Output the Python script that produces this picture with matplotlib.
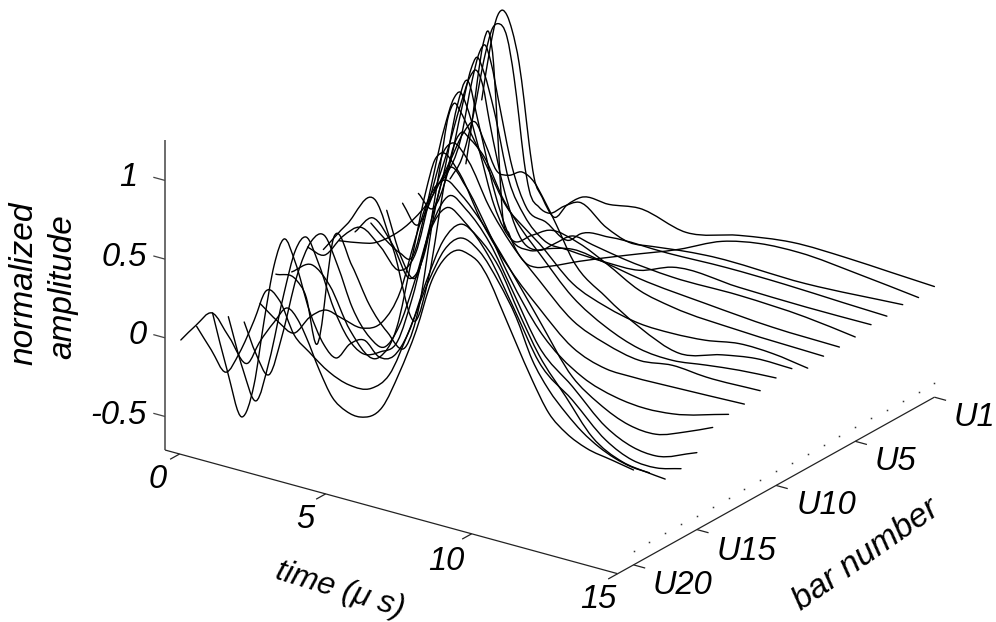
import numpy as np
import matplotlib
matplotlib.use("Agg")
import matplotlib.pyplot as plt
from matplotlib.path import Path
from matplotlib.patches import PathPatch
from mpl_toolkits.mplot3d import proj3d

# time values are measured from the left edge of the time axis (tick "0" sits at 0.5)
T01=[0,.3,.5,.7,.87,1.04,1.28,1.45,1.62,1.79,2.07,2.48,2.92,3.4,4.36,5.39,7,8.81,10.63,12.5,14,15.5]
A01=[.39,.75,.93,.996,.97,.885,.688,.461,.196,-.01,-.124,-.23,-.13,-.057,-.053,-.025,-.097,-.024,.024,.02,.005,-.01]
T02=[0,.2,.4,.6,.8,.95,1.1,1.24,1.48,1.72,2.06,2.4,2.85,3.88,5.49,7.3,8.77,10.04,11.41,13.47,15.5]
A02=[.04,.3,.6,.84,.91,.72,.25,-.19,-.33,-.42,-.488,-.496,-.467,-.383,-.263,-.133,-.008,.043,.055,.02,-.024]
T03=[0,.4,.8,1.2,1.45,1.64,1.95,2.19,2.36,2.53,2.71,3.05,3.39,3.9,4.42,5.34,6.13,6.92,7.84,8.76,12.18,15.5]
A03=[0,.15,.45,.85,1.03,1.07,1.0,.758,.511,.247,.066,-.025,-.046,.024,.076,-.036,-.092,-.078,-.056,-.041,-.048,-.013]
T04=[0,.4,.9,1.3,1.55,1.74,1.95,2.2,2.67,3.15,3.83,4.62,5,6,8,10,12,14,15.5]
A04=[0,.1,.35,.75,.94,.995,.89,.668,.266,.036,-.025,-.1,-.04,-.01,-.01,0,-.005,-.02,-.03]
T05=[0,.5,1,1.5,1.8,2,2.25,2.59,3.1,3.62,4.3,5.16,6.43,7.56,8.69,10.98,13.27,15.5]
A05=[.02,-.05,.2,.65,.9,.987,.9,.68,.26,.065,-.06,-.08,-.092,-.085,-.008,-.02,-.029,-.028]
T06=[0,.5,1,1.5,2,2.3,2.52,2.75,2.97,3.48,3.99,4.68,5.2,5.8,6.5,7.52,9.23,11.53,13.8,15.5]
A06=[.014,-.1,.1,.4,.75,.93,.987,.9,.69,.274,.013,-.048,.02,.1,.08,.045,.013,.013,-.01,-.05]
T07=[0,.5,1,1.5,2,2.4,2.75,3.16,3.68,4.19,4.88,5.5,6.36,7.5,8.64,10.93,13.2,15.5]
A07=[.025,-.25,-.35,.02,.4,.8,.991,.725,.338,.079,.018,.06,.1,.07,.03,-.014,-.048,-.058]
T08=[0,.5,1,1.41,1.9,2.5,2.85,3.06,3.3,3.71,4.22,4.84,5.5,6.1,7.13,8.05,9.19,10.32,12.6,15.5]
A08=[0,-.08,-.14,-.146,.2,.72,.94,.987,.9,.652,.327,.137,.2,.264,.233,.153,.039,-.01,-.043,-.06]
T09=[0,.6,1.3,1.9,2.4,2.9,3.2,3.4,3.6,3.9,4.5,5.2,5.8,6.3,7.45,8.6,9.73,10.86,12,13.15,14.3,15.5]
A09=[0,.12,-.02,-.2,0,.55,.9,.99,.95,.85,.65,.42,.32,.247,.05,-.04,-.088,-.094,-.08,-.043,-.048,-.08]
T10=[0,.8,1.13,1.71,2.4,3.2,3.8,4.25,4.66,5,5.38,5.8,6.27,6.68,7,7.43,8,9.13,10.27,11.64,13.12,14.27,15.5]
A10=[0,.026,.042,.109,.233,.45,.7,.9,.99,.87,.72,.71,.754,.71,.62,.48,.282,.106,-.027,-.125,-.06,-.025,-.027]
T11=[0,.8,1.8,2.4,3.17,3.6,4.2,4.55,4.75,5,5.5,6.2,6.8,7.39,8.53,9.67,10.81,11.95,13.1,14.24,15.5]
A11=[0,.2,.4,.12,-.29,0,.68,.93,.987,.96,.87,.62,.47,.352,.132,-.001,-.081,-.098,-.07,-.045,-.03]
T12=[0,.58,1.2,1.83,2.5,3.14,3.7,4.2,4.7,4.95,5.5,6.2,7,7.93,9.07,10.2,11.36,12.5,13.64,15.5]
A12=[.072,.05,.2,.29,.2,.083,.22,.6,.93,.984,.9,.65,.44,.263,.067,-.024,-.072,-.046,-.062,-.055]
T13=[0,.7,1.3,2,3,3.6,4.1,4.6,4.9,5.1,5.7,6.5,7.5,8.47,9.6,10.76,11.67,13.04,15.5]
A13=[-.03,.05,-.05,-.3,-.42,-.2,.25,.72,.93,.982,.9,.62,.36,.17,-.02,-.1,-.106,-.1,-.084]
T14=[0,.7,1.04,1.38,2,2.6,3.2,3.8,4.46,4.9,5.4,5.7,5.93,6.5,7.2,8,9.02,10.5,11.64,12.67,13.58,15.5]
A14=[.012,.01,-.083,-.363,.355,.2,-.02,-.16,-.22,.05,.65,.9,.986,.9,.68,.4,.113,-.11,-.18,-.2,-.187,-.093]
T15=[0,.6,1.17,1.7,2.23,2.8,3.5,4.2,4.8,5.3,5.8,6.3,6.9,7.6,8.5,9.56,10.7,11.6,12.64,13.55,14.58,15.5]
A15=[-.118,-.2,-.247,-.12,-.047,-.07,-.097,-.02,.2,.55,.85,.985,.92,.78,.55,.26,-.043,-.165,-.25,-.262,-.195,-.12]
T16=[0,.4,.86,1.3,1.8,2.3,2.74,3.2,3.7,4.3,4.8,5.3,5.8,6.4,7.02,7.6,8.4,9.2,10.1,11.24,12.39,13.3,14.1,15.5]
A16=[-.18,-.36,-.47,-.2,.2,.45,.51,.34,.1,-.06,-.096,.06,.35,.75,.978,.92,.75,.48,.174,-.02,-.219,-.3,-.316,-.224]
T17=[0,.5,.95,1.4,1.9,2.3,2.66,3.1,3.6,4.1,4.58,5.2,5.8,6.3,6.9,7.46,8.1,8.9,9.8,10.64,11.78,12.93,13.84,14.64,15.5]
A17=[-.09,-.4,-.577,-.3,.15,.45,.551,.4,.15,-.02,-.09,-.05,.05,.35,.8,.98,.92,.75,.45,.16,-.023,-.22,-.3,-.308,-.27]
T18=[0,.5,1.01,1.42,1.77,2.11,2.45,2.83,3.31,3.82,4.23,4.7,5.2,5.7,6.2,6.7,7.3,7.9,8.5,9.1,9.8,10.5,11.18,12.1,13,14.04,14.84,15.5]
A18=[-.01,-.348,-.62,-.396,.034,.4,.584,.457,.176,-.02,-.082,.03,.08,0,.03,.2,.55,.85,.985,.93,.78,.52,.289,.07,-.139,-.245,-.268,-.28]
T19=[0,.5,1,1.46,1.97,2.37,2.83,3.34,3.85,4.54,5.22,5.98,6.59,7.28,7.96,8.48,9,9.67,10.36,10.94,11.49,12.05,12.65,13.2,13.78,14.3,14.91,15.5]
A19=[-.04,-.164,-.28,-.135,.1,.305,.27,.075,-.007,-.1,-.147,-.13,-.014,.306,.659,.876,.978,.93,.76,.573,.33,.17,.05,-.04,-.108,-.15,-.178,-.184]
T20=[0,.52,1.07,1.65,2.3,2.68,3.2,3.64,4.05,4.29,4.74,5.18,5.66,6.14,6.9,7.48,8.06,8.6,9.08,9.5,9.85,10.2,10.55,10.9,11.48,12.03,12.6,13.2,13.88,14.77,15.5]
A20=[-.07,.05,.156,.033,-.1,.047,.207,.318,.25,.167,-.02,-.17,-.235,-.248,-.146,.1,.4,.747,.918,.983,.975,.94,.85,.717,.492,.286,.104,.007,-.053,-.085,-.11]

TIMES=[T01,T02,T03,T04,T05,T06,T07,T08,T09,T10,T11,T12,T13,T14,T15,T16,T17,T18,T19,T20]
AMPS=[A01,A02,A03,A04,A05,A06,A07,A08,A09,A10,A11,A12,A13,A14,A15,A16,A17,A18,A19,A20]

time_ticks=[.5,5.5,10.5,15.5]
time_labels=['0','5','10','15']
bar_ticks=[1,6,11,16,20]
bar_labels=['U1','U5','U10','U15','U20']
amp_ticks=[-.5,0,.5,1]
amp_labels=['-0.5','0','0.5','1']

TMIN,TMAX=0,15.5
BFRONT,BBACK=21,1
ZMIN,ZMAX=-.713,1.26
DOT_Z=-.624

W,H=996,622
plt.rcParams['font.family']=['Liberation Sans','DejaVu Sans']
fig=plt.figure(figsize=(W/100,H/100),dpi=100)
side=1300
pos=[(W-side)/2/W,(H-side)/2/H,side/W,side/H]
ax=fig.add_axes(pos,projection='3d',proj_type='ortho')
ax.set_xlim(TMIN,TMAX); ax.set_ylim(BFRONT,BBACK); ax.set_zlim(ZMIN,ZMAX)
ax.view_init(elev=22.97,azim=-55)
ax.set_axis_off()
aspect=((TMAX-TMIN)*35.64,abs(BFRONT-BBACK)*27.6,(ZMAX-ZMIN)*170.85)
ax.set_box_aspect(aspect)

def pix(t,b,z):
    x,y,_=proj3d.proj_transform(t,b,z,ax.get_proj())
    return ax.transData.transform((x,y))

# fit the projected box to the picture: time axis runs from (165,450) to (617.6,574)
p0,p1=pix(TMIN,BFRONT,ZMIN),pix(TMAX,BFRONT,ZMIN)
ax.set_box_aspect(aspect,zoom=np.hypot(452.6,124)/np.hypot(*(p1-p0)))
p0=pix(TMIN,BFRONT,ZMIN)
dx,dy=165-p0[0],(H-450)-p0[1]
ax.set_position([pos[0]+dx/W,pos[1]+dy/H,pos[2],pos[3]])

axc='#222222'
def seg(t,b,z,c=axc,lw=.9):
    ax.plot(t,b,z,color=c,lw=lw,clip_on=False,solid_capstyle='butt')
seg([TMIN,TMAX],[BFRONT,BFRONT],[ZMIN,ZMIN])
seg([TMAX,TMAX],[BFRONT,BBACK],[ZMIN,ZMIN])
seg([TMIN,TMIN],[BFRONT,BFRONT],[ZMIN,ZMAX],c='#444444',lw=1.1)
for t in time_ticks:
    seg([t,t],[BFRONT,BFRONT+.6],[ZMIN,ZMIN])
for b in bar_ticks:
    seg([TMAX,TMAX+.4],[b,b],[ZMIN,ZMIN])
for z in amp_ticks:
    seg([TMIN,TMIN-.4],[BFRONT,BFRONT],[z,z],c='#444444')

bars=np.arange(1,21)
ax.plot(np.full(20,TMAX),bars,np.full(20,DOT_Z),ls='',marker='s',ms=1.1,mew=0,color='#333333',clip_on=False)

class CurvedTrace(PathPatch):
    def do_3d_projection(self):
        return 0

def smooth_path(t,b,a):
    """Path through the read values, with curved (Bezier) segments as the line style."""
    t=np.asarray(t,float); a=np.asarray(a,float)
    x,y,_=proj3d.proj_transform(t,np.full(len(t),b),a,ax.get_proj())
    P=np.column_stack([x,y])
    m=np.gradient(P,t,axis=0)
    verts=[P[0]]; codes=[Path.MOVETO]
    for i in range(len(t)-1):
        h=(t[i+1]-t[i])/3
        verts+= [P[i]+m[i]*h,P[i+1]-m[i+1]*h,P[i+1]]
        codes+= [Path.CURVE4]*3
    return Path(verts,codes)

for b,t,a in zip(bars,TIMES,AMPS):
    ax.add_patch(CurvedTrace(smooth_path(t,b,a),fc='none',ec='black',lw=1.0,clip_on=False,capstyle='round',joinstyle='round'))

def label(s,x,y,rot=0,ha='center',size=23.5):
    fig.text(x/W,1-y/H,s,ha=ha,va='center',rotation=rot,rotation_mode='anchor',
             fontsize=size,style='italic',color='black')
for s,(x,y) in zip(amp_labels,[(147,415),(147,336),(147,257),(137,178)]):
    label(s,x,y,ha='right')
for s,(x,y) in zip(time_labels,[(158,480),(305,520),(446,561),(598,600)]):
    label(s,x,y)
for s,(x,y) in zip(bar_labels,[(974,417),(895,462),(826,506),(746,551),(682,586)]):
    label(s,x,y)
label('normalized',24,283,rot=90,size=24)
label('amplitude',63,287,rot=90,size=24)
label('time (\u03bc s)',340,590,rot=-17,size=23)
label('bar number',866,555,rot=35,size=24)

fig.savefig('out.png',dpi=100)
